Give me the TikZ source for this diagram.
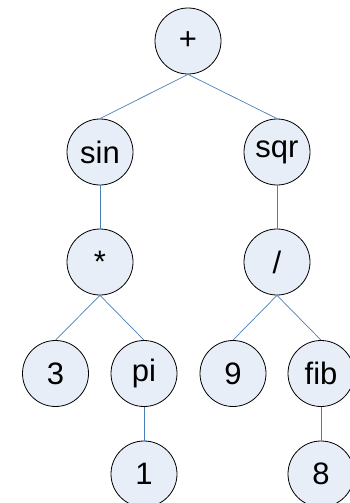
\documentclass[tikz,border=0pt]{standalone}
\usepackage{fontspec}
\setmainfont{Liberation Sans}
\definecolor{nodefill}{RGB}{232,238,248}
\definecolor{edgeblue}{RGB}{74,126,187}
\begin{document}
\begin{tikzpicture}[x=1pt,y=-1pt,
  tnode/.style={circle,draw=black,line width=0.8pt,fill=nodefill,minimum size=66pt,inner sep=0pt,font=\fontsize{31}{31}\selectfont},
  edge/.style={draw=edgeblue,line width=0.7pt}]
\useasboundingbox (0,0) rectangle (349,503);
\node[tnode] (plus) at (188,41) {+};
\node[tnode] (sin) at (100,152) {sin};
\node[tnode] (sqr) at (277,152) {sqr};
\node[tnode] (mul) at (100,262) {*};
\node[tnode] (div) at (277,262) {/};
\node[tnode] (three) at (55.5,373.5) {3};
\node[tnode] (pi) at (144,373.5) {pi};
\node[tnode] (nine) at (233,373.5) {9};
\node[tnode] (fib) at (321,373.5) {fib};
\node[tnode] (one) at (144,474) {1};
\node[tnode] (eight) at (321,474) {8};
\draw[edge] (plus.south) -- (sin.north);
\draw[edge] (plus.south) -- (sqr.north);
\draw[edge] (sin.south) -- (mul.north);
\draw[edge] (sqr.south) -- (div.north);
\draw[edge] (mul.south) -- (three.north);
\draw[edge] (mul.south) -- (pi.north);
\draw[edge] (div.south) -- (nine.north);
\draw[edge] (div.south) -- (fib.north);
\draw[edge] (pi.south) -- (one.north);
\draw[edge] (fib.south) -- (eight.north);
\end{tikzpicture}
\end{document}
